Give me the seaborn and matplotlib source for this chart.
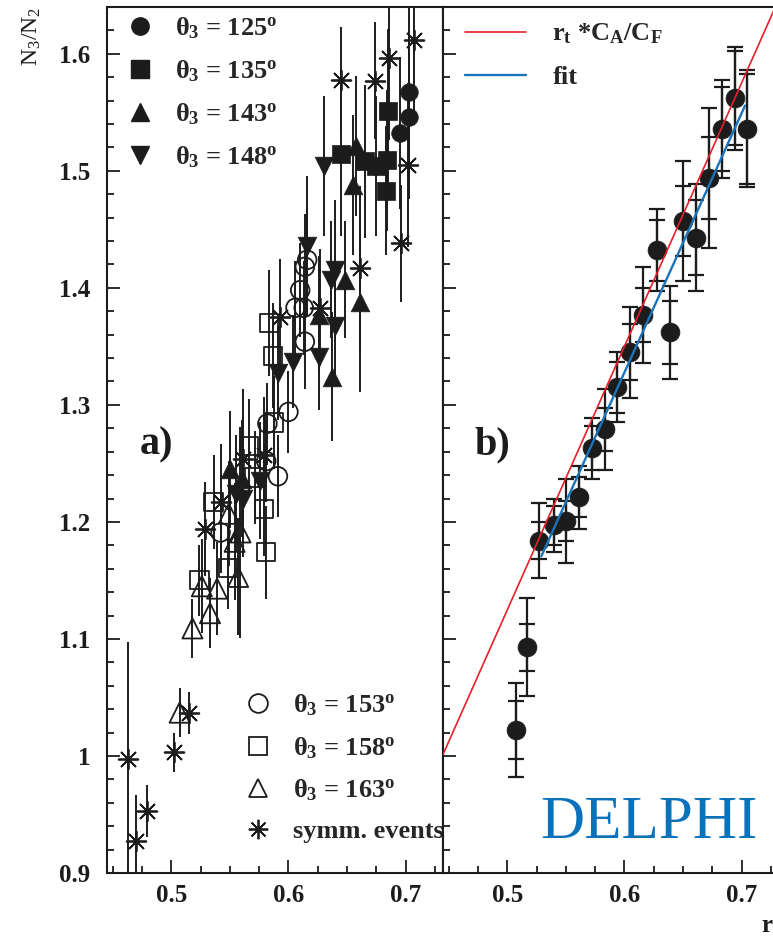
import matplotlib
matplotlib.use("Agg")
import matplotlib.pyplot as plt
import numpy as np
import pandas as pd
import seaborn as sns
from matplotlib.lines import Line2D
from matplotlib.ticker import MultipleLocator, FuncFormatter

# ---------------- panel a): N3/N2 per opening angle ----------------
theta_labels = ["125", "135", "143", "148", "153", "158", "163"]

x_125 = [0.703, 0.703, 0.695]
y_125 = [1.567, 1.546, 1.532]
e_125 = [0.075, 0.070, 0.065]

x_135 = [0.645, 0.665, 0.675, 0.684, 0.685, 0.683]
y_135 = [1.514, 1.508, 1.504, 1.509, 1.551, 1.483]
e_135 = [0.070, 0.065, 0.060, 0.060, 0.070, 0.055]

x_143 = [0.658, 0.655, 0.648, 0.661, 0.637, 0.626, 0.550, 0.560]
y_143 = [1.521, 1.488, 1.407, 1.388, 1.324, 1.377, 1.245, 1.237]
e_143 = [0.060, 0.060, 0.050, 0.077, 0.055, 0.050, 0.050, 0.050]

x_148 = [0.630, 0.616, 0.640, 0.636, 0.640, 0.626, 0.604, 0.591, 0.561, 0.576, 0.555]
y_148 = [1.504, 1.436, 1.415, 1.407, 1.367, 1.341, 1.337, 1.327, 1.220, 1.235, 1.224]
e_148 = [0.060, 0.060, 0.060, 0.050, 0.050, 0.045, 0.040, 0.040, 0.050, 0.050, 0.050]

x_153 = [0.616, 0.614, 0.610, 0.606, 0.613, 0.614, 0.600, 0.582, 0.591, 0.542, 0.581]
y_153 = [1.424, 1.418, 1.398, 1.383, 1.383, 1.354, 1.294, 1.284, 1.239, 1.191, 1.252]
e_153 = [0.045, 0.045, 0.040, 0.040, 0.040, 0.040, 0.035, 0.035, 0.035, 0.035, 0.035]

x_158 = [0.583, 0.587, 0.588, 0.566, 0.571, 0.579, 0.581, 0.536, 0.548, 0.524]
y_158 = [1.370, 1.342, 1.285, 1.265, 1.238, 1.211, 1.174, 1.217, 1.161, 1.150]
e_158 = [0.045, 0.045, 0.040, 0.040, 0.040, 0.040, 0.040, 0.040, 0.035, 0.030]

x_163 = [0.559, 0.554, 0.557, 0.526, 0.539, 0.533, 0.518, 0.507, 0.549]
y_163 = [1.191, 1.183, 1.153, 1.145, 1.143, 1.122, 1.109, 1.037, 1.207]
e_163 = [0.090, 0.050, 0.050, 0.040, 0.040, 0.030, 0.025, 0.021, 0.045]

x_sym = [0.463, 0.470, 0.479, 0.502, 0.515, 0.529, 0.542, 0.561, 0.579,
         0.593, 0.627, 0.661, 0.696, 0.702, 0.645, 0.674, 0.686, 0.707]
y_sym = [0.997, 0.927, 0.953, 1.003, 1.037, 1.194, 1.217, 1.254, 1.257,
         1.375, 1.383, 1.417, 1.438, 1.505, 1.578, 1.577, 1.596, 1.612]
e_sym = [0.100, 0.040, 0.022, 0.017, 0.018, 0.040, 0.050, 0.060, 0.050,
         0.050, 0.050, 0.070, 0.050, 0.070, 0.045, 0.050, 0.070, 0.070]

# ---------------- panel b): combined data, stat and total errors ----------------
r_b = [0.507, 0.517, 0.527, 0.540, 0.550, 0.561, 0.572, 0.583, 0.594, 0.605,
       0.616, 0.628, 0.639, 0.650, 0.661, 0.672, 0.683, 0.694, 0.705]
n_b = [1.022, 1.093, 1.184, 1.197, 1.201, 1.221, 1.263, 1.279, 1.315, 1.345,
       1.377, 1.432, 1.362, 1.457, 1.443, 1.494, 1.536, 1.562, 1.536]
stat_b = [0.025, 0.020, 0.016, 0.017, 0.017, 0.017, 0.019, 0.018, 0.022, 0.024,
          0.023, 0.026, 0.027, 0.030, 0.032, 0.035, 0.036, 0.040, 0.047]
tot_b = [0.040, 0.042, 0.032, 0.023, 0.036, 0.027, 0.026, 0.035, 0.030, 0.039,
         0.041, 0.035, 0.040, 0.051, 0.046, 0.060, 0.042, 0.044, 0.050]

CA_over_CF = 9.0 / 4.0          # QCD expectation slope
fit_slope = 2.213               # fitted proportionality
theory_range = [0.445, 0.732]
fit_range = [0.529, 0.703]

x_ticks = [0.5, 0.6, 0.7]
y_ticks = [0.9, 1.0, 1.1, 1.2, 1.3, 1.4, 1.5, 1.6]

# ---------------- style ----------------
sns.set_theme(style="ticks")
plt.rcParams.update({
    "font.family": ["Liberation Serif", "DejaVu Serif"],
    "font.weight": "bold",
    "mathtext.fontset": "custom",
    "mathtext.rm": "Liberation Serif:bold",
    "mathtext.bf": "Liberation Serif:bold",
    "mathtext.it": "Liberation Serif",
    "axes.linewidth": 1.5,
    "axes.edgecolor": "#1c1c1c",
})

INK = "#1c1c1c"
FS = 18
FS_LEG = 19
W, H = 773, 941


def px_rect(left, top, width, height):
    return [left / W, 1 - (top + height) / H, width / W, height / H]


fig = plt.figure(figsize=(W / 100, H / 100), dpi=100)
axL = fig.add_axes(px_rect(107, 7, 336, 866))
axR = fig.add_axes(px_rect(443, 7, 336, 866))

fmt = FuncFormatter(lambda v, p: f"{v:g}")
for ax in (axL, axR):
    ax.set_xlim(0.445, 0.732)
    ax.set_ylim(0.9, 1.64)
    ax.set_xticks(x_ticks)
    ax.set_yticks(y_ticks)
    ax.xaxis.set_minor_locator(MultipleLocator(0.025))
    ax.yaxis.set_minor_locator(MultipleLocator(0.02))
    ax.xaxis.set_major_formatter(fmt)
    ax.yaxis.set_major_formatter(fmt)
    ax.tick_params(which="both", direction="in", color=INK, width=1.3,
                   top=False, right=False, labelsize=FS, labelcolor=INK)
    ax.tick_params(which="major", length=9.5)
    ax.tick_params(which="minor", length=5)
    ax.tick_params(axis="x", pad=8)
    ax.tick_params(axis="y", pad=12)
    for lab in ax.get_xticklabels() + ax.get_yticklabels():
        lab.set_fontweight("bold")
axR.tick_params(axis="y", labelleft=False)
axR.spines["right"].set_visible(False)

# ---------------- panel a) ----------------
series = [
    (x_125, y_125, e_125, "o", True, 160),
    (x_135, y_135, e_135, "s", True, 150),
    (x_143, y_143, e_143, "^", True, 180),
    (x_148, y_148, e_148, "v", True, 180),
    (x_153, y_153, e_153, "o", False, 180),
    (x_158, y_158, e_158, "s", False, 170),
    (x_163, y_163, e_163, "^", False, 210),
]
for xs, ys, es, mk, filled, size in series:
    df = pd.DataFrame({"r": xs, "ratio": ys, "err": es})
    axL.errorbar(df["r"], df["ratio"], yerr=df["err"], fmt="none",
                 ecolor=INK, elinewidth=1.4, zorder=2)
    if filled:
        sns.scatterplot(data=df, x="r", y="ratio", marker=mk, s=size,
                        color=INK, edgecolor=INK, linewidth=0.5,
                        legend=False, ax=axL, zorder=3)
    else:
        sns.scatterplot(data=df, x="r", y="ratio", marker=mk, s=size,
                        facecolor="none", edgecolor=INK, linewidth=1.3,
                        legend=False, ax=axL, zorder=3)

df_sym = pd.DataFrame({"r": x_sym, "ratio": y_sym, "err": e_sym})
axL.errorbar(df_sym["r"], df_sym["ratio"], yerr=df_sym["err"], fmt="none",
             ecolor=INK, elinewidth=1.4, zorder=2)
sns.scatterplot(data=df_sym, x="r", y="ratio", marker=(8, 2, 0), s=200,
                color=INK, linewidth=1.3, legend=False, ax=axL, zorder=3)
axL.set_xlabel("")
axL.set_ylabel("")

# legends of panel a)
h_top = [Line2D([], [], ls="none", marker=m, ms=12.5, mfc=INK, mec=INK)
         for m in ["o", "s", "^", "v"]]
l_top = [rf"$\theta_3$ = {t}$^\mathbf{{o}}$" for t in theta_labels[:4]]
leg1 = axL.legend(h_top, l_top, loc="upper left", bbox_to_anchor=(0.027, 1.003),
                  frameon=False, handlelength=1.0, handletextpad=0.83,
                  labelspacing=0.66, borderaxespad=0.0,
                  prop={"weight": "bold", "size": FS_LEG})
axL.add_artist(leg1)

h_bot = [Line2D([], [], ls="none", marker=m, ms=13.5, mfc="none", mec=INK, mew=1.3)
         for m in ["o", "s", "^"]]
h_bot.append(Line2D([], [], ls="none", marker=(8, 2, 0), ms=14, mec=INK, mew=1.3))
l_bot = [rf"$\theta_3$ = {t}$^\mathbf{{o}}$" for t in theta_labels[4:]] + ["symm. events"]
axL.legend(h_bot, l_bot, loc="lower left", bbox_to_anchor=(0.379, 0.022),
           frameon=False, handlelength=1.0, handletextpad=0.83,
           labelspacing=0.64, borderaxespad=0.0,
           prop={"weight": "bold", "size": FS_LEG})

axL.text(0.098, 0.483, "a)", transform=axL.transAxes, fontsize=29,
         fontweight="bold", color=INK, va="baseline")

# ---------------- panel b) ----------------
df_b = pd.DataFrame({"r": r_b, "ratio": n_b, "stat": stat_b, "tot": tot_b})
axR.errorbar(df_b["r"], df_b["ratio"], yerr=df_b["tot"], fmt="none",
             ecolor=INK, elinewidth=1.6, capsize=6, capthick=1.6, zorder=2)
axR.errorbar(df_b["r"], df_b["ratio"], yerr=df_b["stat"], fmt="none",
             ecolor=INK, elinewidth=1.6, capsize=6, capthick=1.6, zorder=2)
sns.scatterplot(data=df_b, x="r", y="ratio", marker="o", s=185, color=INK,
                edgecolor=INK, linewidth=0.5, legend=False, ax=axR, zorder=3)

theory = pd.DataFrame({"r": theory_range})
theory["ratio"] = CA_over_CF * theory["r"]
fit = pd.DataFrame({"r": fit_range})
fit["ratio"] = fit_slope * fit["r"]
sns.lineplot(data=theory, x="r", y="ratio", color="#e8202a", lw=1.2, ax=axR,
             zorder=4)
sns.lineplot(data=fit, x="r", y="ratio", color="#1a74bb", lw=1.7, ax=axR,
             zorder=4)
axR.set_xlabel("")
axR.set_ylabel("")

h_r = [Line2D([], [], color="#e8202a", lw=1.2), Line2D([], [], color="#1a74bb", lw=1.7)]
l_r = [r"r$_\mathbf{t}$ *C$_\mathbf{A}$/C$_\mathbf{F}$", "fit"]
axR.legend(h_r, l_r, loc="upper left", bbox_to_anchor=(0.035, 0.995),
           frameon=False, handlelength=2.3, handletextpad=1.0,
           labelspacing=0.72, borderaxespad=0.0,
           prop={"weight": "bold", "size": FS_LEG})

axR.text(0.095, 0.483, "b)", transform=axR.transAxes, fontsize=29,
         fontweight="bold", color=INK, va="baseline")
axR.text(0.289, 0.040, "DELPHI", transform=axR.transAxes, fontsize=44,
         fontweight="normal", color="#0a72bb", va="baseline")

# axis titles
fig.text(32 / W, 1 - 7 / H, r"N$_\mathregular{3}$/N$_\mathregular{2}$",
         rotation=90, ha="center", va="top", fontsize=17, fontweight="normal",
         color=INK)
fig.text(772 / W, 1 - 932 / H, "r", fontsize=FS, ha="right",
         fontweight="bold", color=INK, va="baseline")

fig.savefig("out.png", dpi=100)
